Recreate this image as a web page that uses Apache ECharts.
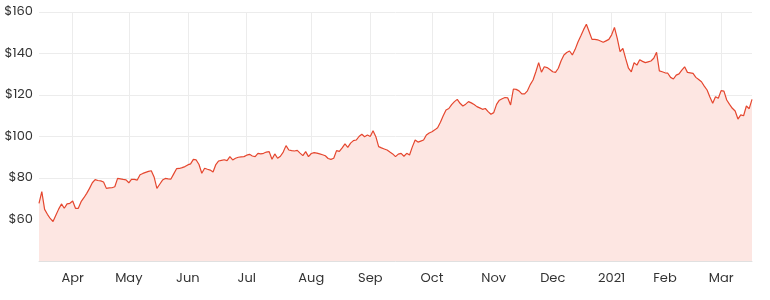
<!DOCTYPE html>
<html>
<head>
<meta charset="utf-8">
<script src="https://cdn.jsdelivr.net/npm/echarts@6/dist/echarts.min.js"></script>
<style>
html,body{margin:0;padding:0;background:#fff;}
#chart{width:770px;height:300px;}
</style>
</head>
<body>
<div id="chart"></div>
<script>
// Trading days (ASX) from 2020-03-16, excluding weekends and these holidays
const startDate = '2020-03-16';
const holidays = ['2020-04-10','2020-04-13','2020-06-08','2020-12-25','2020-12-28','2021-01-01','2021-01-26'];
const monthNames = ['Jan','Feb','Mar','Apr','May','Jun','Jul','Aug','Sep','Oct','Nov','Dec'];
const yTicks = [40, 60, 80, 100, 120, 140, 160];

const prices = [
67.8,73.4,64.9,62.5,60.5,59.0,62.0,65.0,67.5,65.4,
67.5,67.8,68.9,65.4,65.4,68.6,70.5,72.6,75.0,77.7,
79.2,78.8,78.6,78.1,75.0,75.2,75.3,75.8,79.8,79.6,
79.3,79.1,77.7,79.4,79.3,79.0,81.6,82.2,82.7,83.2,
83.5,80.5,75.0,77.0,79.0,79.8,79.6,79.5,82.0,84.5,
84.6,85.0,85.5,86.3,86.8,89.0,88.7,86.5,82.3,84.7,
84.2,83.8,82.9,86.5,88.2,88.5,88.8,88.4,90.3,88.7,
89.5,90.0,90.2,90.3,91.0,91.4,90.6,90.3,91.9,91.6,
91.9,92.5,92.7,89.0,91.6,89.5,90.5,92.5,95.6,93.5,
93.2,93.0,93.3,92.0,90.8,92.7,90.3,91.8,92.2,92.0,
91.6,91.2,90.7,89.4,89.0,89.5,93.2,92.8,94.5,96.4,
94.8,96.8,98.0,98.3,100.0,101.1,99.9,100.7,100.0,102.8,
99.9,95.1,94.5,94.0,93.5,92.5,91.6,90.3,91.5,91.9,
90.5,91.9,91.1,95.0,98.3,97.3,97.8,98.3,100.7,101.7,
102.3,103.2,104.2,106.9,110.0,112.8,113.5,115.4,116.8,117.9,
116.0,114.7,115.6,116.8,116.2,115.4,114.4,113.8,113.1,113.5,
112.0,110.7,111.5,115.5,117.5,118.2,118.8,118.6,115.2,122.9,
122.7,122.0,120.5,120.5,122.0,125.0,127.2,131.2,135.6,131.0,
133.6,133.2,132.3,131.2,130.9,132.9,136.5,139.3,140.5,141.2,
139.3,142.0,145.5,148.4,151.5,154.1,150.5,146.8,146.8,146.6,
146.0,145.4,146.1,146.8,149.0,152.6,147.3,140.9,142.5,137.5,
132.9,131.2,135.6,134.4,137.0,136.2,135.6,136.0,136.4,137.7,
140.6,131.6,131.2,130.7,130.5,128.5,127.7,129.6,130.2,132.0,
133.6,130.9,130.7,130.4,128.5,127.5,126.4,124.3,122.4,119.0,
116.0,119.2,118.4,122.1,121.9,117.6,115.5,113.6,112.3,108.4,
110.4,110.0,114.7,113.4,117.9
];

function pad(n){return (n<10?'0':'')+n;}
function buildDates(n){
  const out=[];
  const p=startDate.split('-').map(Number);
  let d=new Date(Date.UTC(p[0],p[1]-1,p[2]));
  while(out.length<n){
    const wd=d.getUTCDay();
    const s=d.getUTCFullYear()+'-'+pad(d.getUTCMonth()+1)+'-'+pad(d.getUTCDate());
    if(wd!==0&&wd!==6&&holidays.indexOf(s)<0) out.push(s);
    d=new Date(d.getTime()+86400000);
  }
  return out;
}
const dates = buildDates(prices.length);
function monthOf(s){return Number(s.split('-')[1]);}
function isMonthStart(i){return i>0 && monthOf(dates[i])!==monthOf(dates[i-1]);}

const chart = echarts.init(document.getElementById('chart'), null, {renderer:'canvas'});
chart.setOption({
  animation:false,
  grid:{left:39,right:18,top:12,bottom:39,containLabel:false},
  xAxis:{
    type:'category',
    data:dates,
    boundaryGap:false,
    axisLine:{show:true,lineStyle:{color:'#e0e0e0',width:1}},
    axisTick:{show:false},
    axisLabel:{
      interval:function(i){return isMonthStart(i);},
      color:'#333',
      fontFamily:'Poppins, "Open Sans", sans-serif',
      fontSize:13,
      margin:11,
      formatter:function(v){
        const p=v.split('-');
        const m=Number(p[1]);
        return m===1?p[0]:monthNames[m-1];
      }
    },
    splitLine:{show:true,interval:function(i){return isMonthStart(i);},lineStyle:{color:'#ececec',width:1}}
  },
  yAxis:{
    type:'value',
    min:yTicks[0],
    max:yTicks[yTicks.length-1],
    interval:20,
    axisLine:{show:false},
    axisTick:{show:false},
    axisLabel:{
      color:'#333',
      fontFamily:'Poppins, "Open Sans", sans-serif',
      fontSize:13,
      margin:6,
      formatter:function(v){return v===yTicks[0]?'':'$'+v;}
    },
    splitLine:{show:true,lineStyle:{color:'#ececec',width:1}}
  },
  series:[{
    type:'line',
    data:prices,
    showSymbol:false,
    symbol:'none',
    lineStyle:{color:'#e5472f',width:1.2},
    areaStyle:{color:'#fde6e2',opacity:1},
    z:3
  }]
});
</script>
</body>
</html>
